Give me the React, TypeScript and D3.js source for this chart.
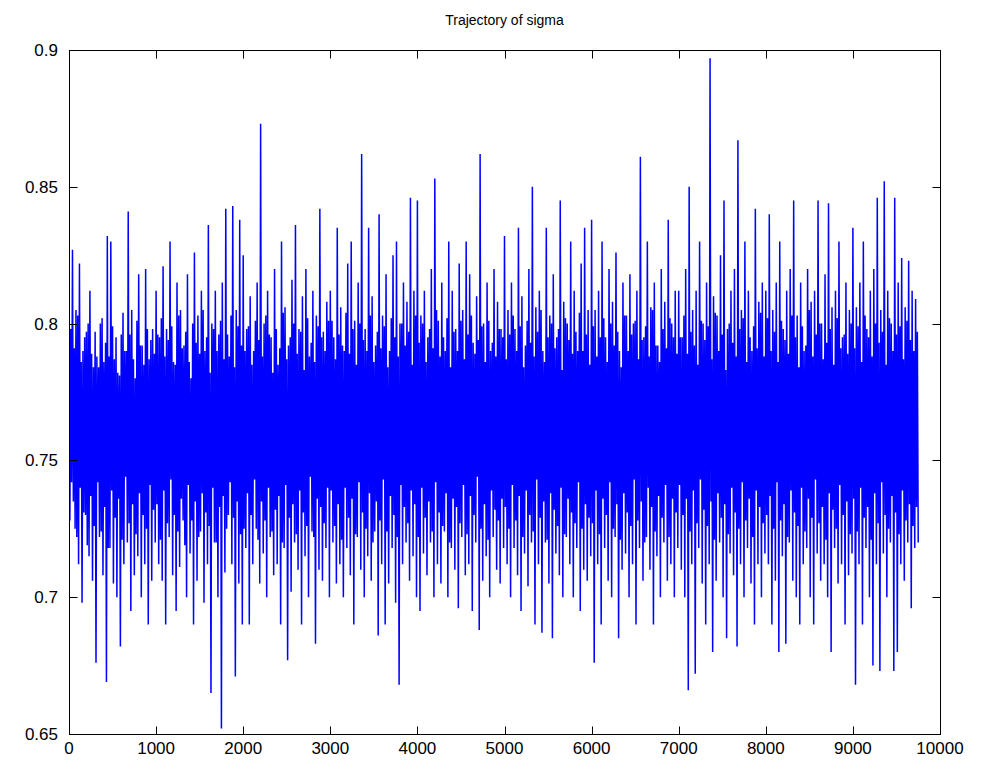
import React, { useEffect } from 'react';
import * as d3 from 'd3';

const chartTitle = 'Trajectory of sigma';
const xTicks = [0, 1000, 2000, 3000, 4000, 5000, 6000, 7000, 8000, 9000, 10000];
const yTicks = [0.65, 0.7, 0.75, 0.8, 0.85, 0.9];
const yTickLabels = ['0.65', '0.7', '0.75', '0.8', '0.85', '0.9'];
const blockIters = 40; // each block of 40 iterations: outer high, inner low, inner high, outer low

// Outer upper excursions (thousandths), one per block
const sigmaHigh = [
  835, 827, 805, 822, 790, 797, 812, 784, 788, 800, 786, 832, 830, 787, 782, 796, 790, 841, 805, 780, 818, 792, 820, 787, 798,
  812, 795, 821, 798, 830, 786, 815, 805, 792, 818, 780, 826, 803, 812, 790, 836, 800, 812, 796, 815, 842, 788, 843, 805, 838,
  825, 798, 810, 790, 815, 873, 800, 812, 795, 820, 785, 830, 806, 792, 816, 836, 798, 810, 820, 788, 812, 803, 842, 797, 808,
  812, 795, 835, 806, 790, 822, 830, 801, 815, 862, 798, 835, 810, 792, 840, 803, 818, 790, 825, 830, 800, 815, 808, 846, 812,
  845, 803, 812, 795, 820, 853, 801, 815, 790, 830, 812, 798, 822, 805, 830, 818, 793, 810, 862, 800, 815, 790, 820, 808, 798,
  832, 805, 815, 798, 835, 810, 792, 820, 850, 806, 812, 790, 835, 803, 818, 795, 845, 808, 800, 830, 812, 790, 822, 835, 805,
  838, 805, 812, 830, 795, 820, 808, 826, 790, 815, 803, 818, 800, 812, 861, 795, 830, 806, 815, 792, 820, 808, 838, 800, 812,
  812, 795, 820, 850, 805, 812, 830, 800, 815, 897, 810, 803, 825, 845, 798, 812, 820, 867, 805, 830, 812, 790, 842, 808, 815,
  812, 840, 805, 815, 830, 798, 812, 820, 845, 803, 815, 790, 820, 808, 812, 845, 800, 818, 844, 806, 812, 830, 795, 815, 805,
  835, 806, 815, 830, 798, 812, 820, 846, 805, 852, 812, 800, 846, 815, 824, 806, 823, 812, 809,
];

// Outer lower excursions (thousandths), one per block
const sigmaLow = [
  742, 725, 712, 698, 730, 715, 706, 676, 722, 708, 669, 718, 705, 700, 682, 712, 720, 695, 708, 715, 700, 712, 690, 706, 720,
  712, 706, 690, 722, 708, 695, 711, 728, 700, 716, 690, 706, 724, 698, 712, 665, 720, 700, 652, 709, 730, 712, 671, 705, 690,
  718, 690, 712, 725, 705, 716, 700, 722, 708, 712, 690, 718, 677, 702, 720, 710, 690, 715, 700, 724, 683, 710, 706, 718, 700,
  720, 705, 712, 700, 718, 708, 690, 722, 710, 700, 715, 706, 724, 686, 712, 690, 705, 718, 698, 668, 712, 720, 706, 715, 700,
  695, 716, 708, 720, 700, 712, 705, 724, 700, 718, 710, 696, 722, 708, 712, 695, 720, 688, 706, 715, 700, 722, 710, 705, 718,
  712, 700, 718, 708, 695, 716, 704, 720, 690, 712, 687, 720, 705, 685, 716, 708, 700, 722, 712, 700, 718, 695, 710, 706, 715,
  676, 712, 690, 718, 706, 700, 722, 685, 710, 716, 700, 712, 690, 718, 706, 722, 710, 690, 715, 700, 720, 706, 712, 700, 718,
  710, 700, 666, 712, 672, 718, 705, 690, 712, 680, 706, 720, 700, 685, 716, 708, 682, 712, 700, 718, 705, 690, 712, 700, 716,
  712, 690, 706, 680, 715, 683, 720, 706, 700, 690, 712, 718, 700, 690, 716, 706, 712, 700, 680, 718, 705, 712, 690, 708, 716,
  668, 712, 690, 718, 700, 675, 712, 673, 716, 700, 720, 673, 680, 712, 706, 720, 696, 718, 720,
];

// Inner upper swings inside the dense band (thousandths)
const sigmaInnerHigh = [
  798, 791, 803, 786, 795, 800, 789, 797, 784, 802, 793, 788, 799, 795, 781, 804, 790, 796, 787, 801, 792, 785, 798, 794, 789,
  796, 802, 788, 794, 799, 785, 803, 791, 797, 786, 800, 793, 789, 805, 795, 782, 798, 790, 801, 787, 796, 803, 784, 799, 792,
  790, 799, 785, 801, 794, 788, 803, 796, 782, 798, 791, 804, 787, 795, 800, 789, 797, 783, 802, 793, 786, 799, 795, 790, 801,
  801, 787, 796, 792, 804, 789, 798, 785, 800, 794, 790, 803, 786, 797, 791, 799, 784, 802, 795, 788, 800, 792, 797, 785, 803,
  793, 800, 786, 798, 791, 805, 788, 795, 802, 784, 797, 790, 801, 787, 796, 803, 789, 794, 799, 786, 801, 793, 788, 798, 795,
  787, 796, 803, 790, 799, 784, 801, 793, 788, 797, 805, 786, 795, 800, 791, 798, 783, 802, 794, 789, 797, 804, 790, 796, 785,
  799, 788, 795, 802, 786, 800, 792, 797, 784, 803, 790, 796, 801, 787, 794, 799, 788, 805, 792, 786, 798, 791, 802, 795, 789,
  795, 803, 789, 797, 792, 785, 801, 794, 799, 787, 804, 790, 796, 783, 800, 793, 788, 798, 802, 786, 795, 799, 791, 804, 788,
  802, 790, 797, 786, 801, 794, 789, 803, 795, 784, 799, 792, 805, 788, 796, 800, 787, 793, 798, 785, 802, 791, 796, 789, 800,
  791, 799, 786, 803, 795, 788, 800, 793, 797, 785, 802, 790, 796, 799, 787, 801, 794, 790, 797,
];

// Inner lower swings inside the dense band (thousandths)
const sigmaInnerLow = [
  728, 735, 722, 740, 731, 719, 737, 726, 742, 724, 733, 718, 739, 729, 736, 721, 744, 727, 734, 723, 738, 730, 725, 741, 732,
  734, 721, 739, 727, 743, 730, 724, 736, 719, 741, 728, 735, 722, 738, 731, 726, 740, 720, 733, 737, 725, 742, 729, 735, 723,
  725, 738, 730, 743, 721, 735, 728, 740, 724, 732, 737, 720, 741, 729, 734, 723, 739, 731, 726, 744, 722, 736, 733, 727, 740,
  739, 726, 734, 721, 740, 729, 736, 723, 742, 731, 725, 738, 720, 735, 728, 743, 724, 737, 730, 722, 741, 733, 727, 739, 734,
  722, 740, 729, 735, 724, 742, 731, 726, 738, 720, 736, 733, 727, 741, 723, 737, 730, 744, 725, 734, 721, 739, 732, 728, 736,
  733, 725, 741, 728, 737, 722, 739, 730, 724, 743, 729, 735, 721, 738, 732, 726, 740, 723, 736, 731, 727, 742, 725, 734, 729,
  727, 739, 723, 736, 730, 742, 725, 734, 721, 738, 731, 726, 743, 728, 735, 720, 740, 733, 724, 737, 729, 741, 722, 736, 731,
  741, 730, 736, 724, 739, 727, 743, 732, 726, 735, 721, 738, 729, 734, 723, 740, 731, 725, 742, 728, 736, 722, 739, 733, 727,
  730, 737, 725, 742, 728, 734, 722, 739, 731, 726, 740, 724, 736, 729, 743, 727, 733, 721, 738, 732, 725, 741, 730, 735, 723,
  736, 724, 740, 729, 733, 721, 738, 727, 742, 730, 725, 737, 731, 723, 739, 728, 734, 726, 733,
];

export default function App() {
  useEffect(() => {
    document.body.style.margin = '0';
  }, []);

  const W = 982;
  const H = 774;
  const left = 69;
  const right = 940;
  const top = 50;
  const bottom = 734;

  const x = d3.scaleLinear().domain([0, 10000]).range([left, right]);
  const y = d3.scaleLinear().domain([0.65, 0.9]).range([bottom, top]);

  const n = Math.min(sigmaHigh.length, sigmaLow.length, sigmaInnerHigh.length, sigmaInnerLow.length);
  const q = blockIters / 4;
  const trace: [number, number][] = [];
  for (let k = 0; k < n; k++) {
    const base = k * blockIters;
    trace.push([base, sigmaHigh[k] / 1000]);
    trace.push([base + q, sigmaInnerLow[k] / 1000]);
    trace.push([base + 2 * q, sigmaInnerHigh[k] / 1000]);
    trace.push([base + 3 * q, sigmaLow[k] / 1000]);
  }

  const line = d3
    .line<[number, number]>()
    .x((d) => x(d[0]))
    .y((d) => y(d[1]));

  const tickLen = 8;
  const font = 'Liberation Sans, Arial, Helvetica, sans-serif';

  return (
    <svg
      width={W}
      height={H}
      style={{ position: 'absolute', left: 0, top: 0, background: '#fff' }}
    >
      <rect x={0} y={0} width={W} height={H} fill="#fff" />
      <defs>
        <clipPath id="plotClip">
          <rect x={left} y={top} width={right - left} height={bottom - top} />
        </clipPath>
      </defs>
      <path
        d={line(trace) || ''}
        fill="none"
        stroke="#0000ff"
        strokeWidth={1.5}
        strokeLinejoin="miter"
        strokeMiterlimit={1}
        clipPath="url(#plotClip)"
      />
      <rect
        x={left + 0.5}
        y={top + 0.5}
        width={right - left}
        height={bottom - top}
        fill="none"
        stroke="#000"
        strokeWidth={1}
      />
      {xTicks.map((t) => {
        const px = Math.round(x(t)) + 0.5;
        return (
          <g key={'x' + t}>
            <line x1={px} x2={px} y1={bottom + 0.5} y2={bottom + 0.5 - tickLen} stroke="#000" />
            <line x1={px} x2={px} y1={top + 0.5} y2={top + 0.5 + tickLen} stroke="#000" />
            <text
              x={x(t)}
              y={bottom + 20}
              textAnchor="middle"
              fontFamily={font}
              fontSize={17}
              fill="#000"
            >
              {t}
            </text>
          </g>
        );
      })}
      {yTicks.map((t, i) => {
        const py = Math.round(y(t)) + 0.5;
        return (
          <g key={'y' + t}>
            <line x1={left + 0.5} x2={left + 0.5 + tickLen} y1={py} y2={py} stroke="#000" />
            <line x1={right + 0.5} x2={right + 0.5 - tickLen} y1={py} y2={py} stroke="#000" />
            <text
              x={left - 11}
              y={y(t)}
              dy="0.35em"
              textAnchor="end"
              fontFamily={font}
              fontSize={17}
              fill="#000"
            >
              {yTickLabels[i]}
            </text>
          </g>
        );
      })}
      <text
        x={(left + right) / 2}
        y={top - 25}
        textAnchor="middle"
        fontFamily={font}
        fontSize={14}
        fill="#000"
      >
        {chartTitle}
      </text>
    </svg>
  );
}
